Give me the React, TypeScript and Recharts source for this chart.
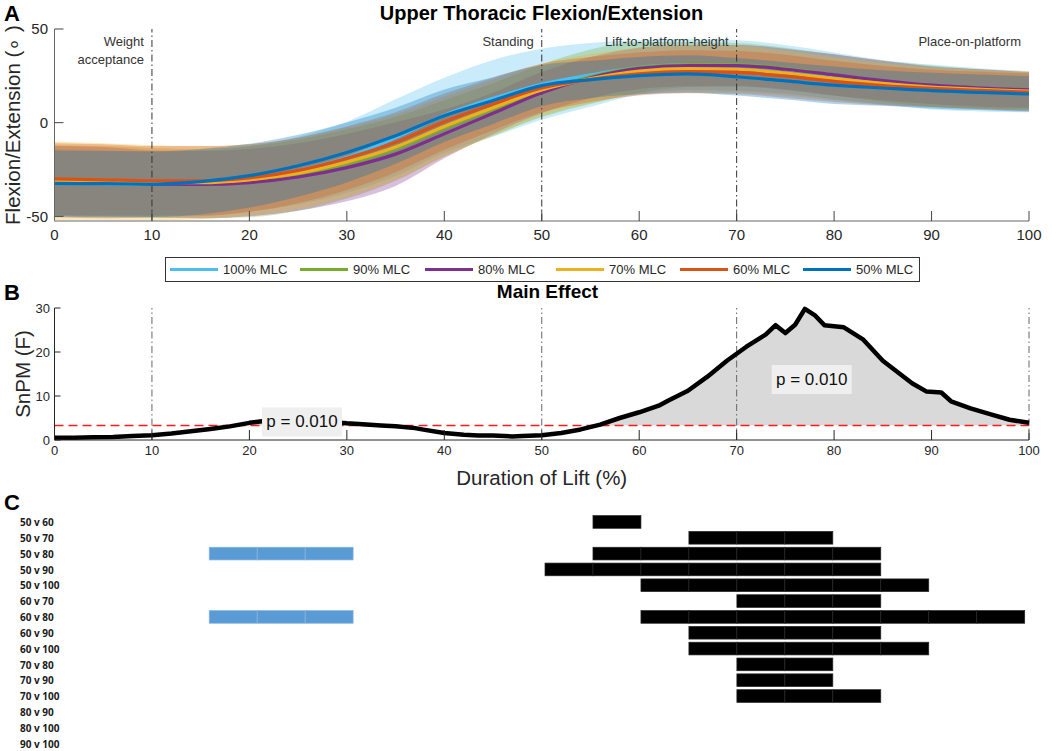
import React from 'react';
import {
  ComposedChart,
  Area,
  Line,
  Bar,
  XAxis,
  YAxis,
  ReferenceLine,
  ReferenceDot,
} from 'recharts';

// ---------- Panel A data ----------
const pctX = [0, 5, 10, 15, 20, 25, 30, 35, 40, 45, 50, 55, 60, 65, 70, 75, 80, 85, 90, 95, 100];
const xTicks = [0, 10, 20, 30, 40, 50, 60, 70, 80, 90, 100];
const yTicksA = [-50, 0, 50];

const mean100 = [-32, -32.5, -33, -32.5, -30, -25.5, -18.5, -8, 4, 13, 20.5, 25.5, 29.5, 31, 30.5, 28.5, 25, 21.5, 19, 17.5, 16.5];
const sd100 = [18, 18, 17.5, 17.5, 17.5, 18, 19, 20.5, 20, 20.5, 19, 17, 14.5, 13.5, 13.5, 13, 12.5, 12, 12, 11.5, 11];
const mean90 = [-31, -31.5, -32, -32.5, -31.5, -28, -22, -14, -3, 7, 17, 24.5, 29.5, 31, 31, 29, 25.5, 22, 19.5, 18, 17];
const sd90 = [19, 19, 18.5, 18.5, 19, 19, 18.5, 17, 15, 14, 14, 14.5, 13.5, 12, 11.5, 11, 11, 11, 11, 10.5, 10];
const mean80 = [-31.5, -32, -32.8, -33, -32, -29, -24, -16.8, -6, 5, 16, 24, 29, 30.5, 30.5, 28.5, 25.5, 22.5, 20, 18.5, 17.5];
const sd80 = [19, 19, 18, 18, 18, 18, 18, 17, 13, 11, 11, 11, 11, 11, 11, 11, 11, 10.5, 10, 10, 9.5];
const mean70 = [-31, -31.5, -32, -32, -30.5, -27, -21, -13, -2, 8, 17.5, 23.5, 27.5, 28.8, 28.5, 26.5, 23.5, 21, 19, 17.8, 16.8];
const sd70 = [21, 20.5, 20, 19.5, 19, 19, 18.5, 17.5, 16, 15, 14, 13, 12.5, 12.5, 12.5, 12, 11.5, 11, 10.5, 10.5, 10.5];
const mean60 = [-30, -30.5, -31, -31, -29.5, -25.5, -19, -10.5, 0.5, 10, 18.5, 23, 26, 27.2, 26.8, 24.8, 22, 19.8, 18.3, 17.2, 16.3];
const sd60 = [19, 19, 18.5, 18.5, 18, 17.5, 17, 16, 15, 14, 13, 12, 11.5, 11.5, 11.5, 11.5, 11, 10.5, 10, 10, 10];
const mean50 = [-32.4, -32.6, -32.8, -31.5, -28.3, -23, -15.9, -7, 3.7, 11.8, 19.8, 23, 25.1, 26, 24.5, 22.3, 20, 18.5, 17.1, 16.2, 15.3];
const sd50 = [17.5, 17.5, 17.5, 17.5, 17, 16.5, 16, 15, 14, 12.5, 11, 10, 10, 10, 10, 10, 10, 9.5, 9.5, 9.5, 9.5];

const seriesA = [
  { id: 's100', name: '100% MLC', color: '#4DBEEE', mean: mean100, sd: sd100 },
  { id: 's90', name: '90% MLC', color: '#77AC30', mean: mean90, sd: sd90 },
  { id: 's80', name: '80% MLC', color: '#7E2F8E', mean: mean80, sd: sd80 },
  { id: 's70', name: '70% MLC', color: '#EDB120', mean: mean70, sd: sd70 },
  { id: 's60', name: '60% MLC', color: '#D95319', mean: mean60, sd: sd60 },
  { id: 's50', name: '50% MLC', color: '#0072BD', mean: mean50, sd: sd50 },
];

const phases = [
  { x: 10, lines: ['Weight', 'acceptance'], drawn: true },
  { x: 50, lines: ['Standing'], drawn: true },
  { x: 70, lines: ['Lift-to-platform-height'], drawn: true },
  { x: 100, lines: ['Place-on-platform'], drawn: false },
];

const dataA = pctX.map((x, i) => {
  const row: any = { x };
  seriesA.forEach((s) => {
    row[s.id] = s.mean[i];
    row[s.id + 'band'] = [s.mean[i] - s.sd[i], s.mean[i] + s.sd[i]];
  });
  return row;
});

// ---------- Panel B data ----------
const snpmX = [0, 2, 4, 6, 8, 10, 12, 14, 16, 18, 20, 21.5, 23, 25, 27, 29, 30, 32, 33.5, 35, 37, 38, 40, 42, 43.5, 45, 47, 48, 50, 52, 54, 56, 58, 60, 62, 63, 65, 67, 69, 70, 71, 73, 74, 75, 76, 77, 78, 79, 81, 83, 85, 86, 88, 89.5, 91, 92, 94, 96, 98, 100];
const snpmF = [0.5, 0.5, 0.6, 0.7, 0.9, 1.1, 1.5, 2, 2.5, 3.1, 3.9, 4.3, 4.4, 4.4, 4.2, 4.0, 3.8, 3.5, 3.3, 3.1, 2.7, 2.3, 1.6, 1.2, 1.0, 1.0, 0.8, 0.9, 1.1, 1.6, 2.4, 3.5, 5.0, 6.3, 7.8, 9.0, 11.2, 14.4, 18.0, 19.6, 21.2, 24.0, 26.1, 24.3, 26.2, 29.8, 28.4, 26.1, 25.6, 22.8, 18.0, 16.3, 12.9, 11.0, 10.8, 8.8, 7.2, 5.9, 4.6, 3.9];
const threshold = 3.3;
const yTicksB = [0, 10, 20, 30];
const phaseLinesB = [10, 50, 70, 100];
const clusters = [
  { x: 25.4, y: 4.1, text: 'p = 0.010' },
  { x: 77.7, y: 13.75, text: 'p = 0.010' },
];

const dataB = snpmX.map((x, i) => ({
  x,
  f: snpmF[i],
  supra: [threshold, Math.max(threshold, snpmF[i])],
}));

// ---------- Panel C data ----------
const pairs = ['50 v 60', '50 v 70', '50 v 80', '50 v 90', '50 v 100', '60 v 70', '60 v 80', '60 v 90', '60 v 100', '70 v 80', '70 v 90', '70 v 100', '80 v 90', '80 v 100', '90 v 100'];
const blueSpans = [null, null, [15, 30], null, null, null, [15, 30], null, null, null, null, null, null, null, null];
const blackSpans = [[55, 60], [65, 80], [55, 85], [50, 85], [60, 90], [70, 85], [60, 100], [65, 85], [65, 90], [70, 80], [70, 80], [70, 85], null, null, null];
const CELL = 5;

const dataC = pairs.map((p, i) => ({ pair: p, blue: blueSpans[i], black: blackSpans[i] }));

// ---------- styles ----------
const FONT = '"Liberation Sans", Arial, Helvetica, sans-serif';
const AX = '#262626';
const DASHDOT = '7 3 1.5 3';
const RED = '#ff1a1a';

const phaseLabel = (lines: string[]) => (props: any) => {
  const vb = props.viewBox || {};
  const x = (vb.x || 0) - 8;
  const y0 = (vb.y || 0) + 17;
  return (
    <text x={x} y={y0} textAnchor="end" fontSize={13} fontFamily={FONT} fill="#333">
      {lines.map((l, k) => (
        <tspan key={k} x={x} dy={k === 0 ? 0 : 17.5}>
          {l}
        </tspan>
      ))}
    </text>
  );
};

const vLabel = (text: string, dx: number) => (props: any) => {
  const vb = props.viewBox || {};
  const cx = (vb.x || 0) + dx;
  const cy = (vb.y || 0) + (vb.height || 0) / 2;
  return (
    <text
      x={cx}
      y={cy}
      transform={`rotate(-90 ${cx} ${cy})`}
      textAnchor="middle"
      dominantBaseline="central"
      fontSize={20.5}
      fontFamily={FONT}
      fill={AX}
    >
      {text}
    </text>
  );
};

const xLabelB = (props: any) => {
  const vb = props.viewBox || {};
  return (
    <text
      x={(vb.x || 0) + (vb.width || 0) / 2}
      y={(vb.y || 0) + 37}
      textAnchor="middle"
      dominantBaseline="central"
      fontSize={20.5}
      fontFamily={FONT}
      fill={AX}
    >
      Duration of Lift (%)
    </text>
  );
};

const clusterShape = (text: string) => (props: any) => {
  const { cx, cy } = props;
  if (cx == null || cy == null) return null;
  return (
    <g>
      <rect x={cx - 40} y={cy - 14.5} width={80} height={29} fill="#efefef" />
      <text x={cx} y={cy} textAnchor="middle" dominantBaseline="central" fontSize={17} fontFamily={FONT} fill="#111">
        {text}
      </text>
    </g>
  );
};

const thresholdShape = (props: any) => {
  const { x1, x2, y1, y2 } = props;
  return <line x1={x1} x2={x2} y1={y1} y2={y2} stroke={RED} strokeWidth={1.4} strokeDasharray="9 5" />;
};

const cellShape = (key: string, fill: string, edge: string) => (props: any) => {
  const v = props.payload ? props.payload[key] : null;
  if (!v || !props.width) return null;
  const n = Math.max(1, Math.round((v[1] - v[0]) / CELL));
  const w = props.width / n;
  return (
    <g>
      {Array.from({ length: n }, (_, k) => (
        <rect key={k} x={props.x + k * w} y={props.y} width={w} height={props.height} fill={fill} stroke={edge} strokeWidth={0.7} />
      ))}
    </g>
  );
};

const PairTick = (props: any) => {
  const { y, payload } = props;
  return (
    <text x={20} y={y} dy={4.6} fontSize={10} fontWeight={700} fontFamily='"Open Sans", sans-serif' fill="#1a1a1a">
      {payload.value}
    </text>
  );
};

const legendStarts = [170, 300, 425, 556, 680, 803];

export default function App() {
  return (
    <div style={{ position: 'absolute', left: 0, top: 0, width: 1052, height: 751, background: '#fff', fontFamily: FONT, overflow: 'hidden' }}>
      {/* Panel letters and titles */}
      <div style={{ position: 'absolute', left: 4, top: 1, fontSize: 22, fontWeight: 700, color: '#000' }}>A</div>
      <div style={{ position: 'absolute', left: 4, top: 280, fontSize: 22, fontWeight: 700, color: '#000' }}>B</div>
      <div style={{ position: 'absolute', left: 4, top: 490, fontSize: 22, fontWeight: 700, color: '#000' }}>C</div>
      <div style={{ position: 'absolute', left: 0, width: 1083, top: 2, textAlign: 'center', fontSize: 20, fontWeight: 700, color: '#000' }}>
        Upper Thoracic Flexion/Extension
      </div>
      <div style={{ position: 'absolute', left: 0, width: 1095, top: 281, textAlign: 'center', fontSize: 19, fontWeight: 700, color: '#000' }}>
        Main Effect
      </div>

      {/* Panel A */}
      <div style={{ position: 'absolute', left: 0, top: 0 }}>
        <ComposedChart width={1052} height={250} data={dataA} margin={{ top: 29, right: 23, bottom: 0, left: 0 }}>
          <XAxis
            dataKey="x"
            type="number"
            domain={[0, 100]}
            ticks={xTicks}
            height={29}
            tickSize={-10}
            tickMargin={18}
            tick={{ fontSize: 15, fill: AX, fontFamily: FONT }}
            axisLine={{ stroke: '#666' }}
            tickLine={{ stroke: '#444' }}
            allowDataOverflow
          />
          <XAxis
            xAxisId="top"
            orientation="top"
            type="number"
            domain={[0, 100]}
            ticks={xTicks}
            height={0}
            tickSize={-10}
            tickFormatter={() => ''}
            axisLine={{ stroke: '#666' }}
            tickLine={{ stroke: '#444' }}
          />
          <YAxis
            type="number"
            domain={[-52.5, 50]}
            ticks={yTicksA}
            width={54.5}
            tickSize={-9}
            tickMargin={15.5}
            tick={{ fontSize: 15, fill: AX, fontFamily: FONT }}
            axisLine={{ stroke: '#666' }}
            tickLine={{ stroke: '#444' }}
            allowDataOverflow
            label={vLabel('Flexion/Extension (\u2218 )', 12.5)}
          />
          <YAxis
            yAxisId="right"
            orientation="right"
            type="number"
            domain={[-52.5, 50]}
            ticks={yTicksA}
            width={0}
            tickSize={-9}
            tickFormatter={() => ''}
            axisLine={{ stroke: '#666' }}
            tickLine={{ stroke: '#444' }}
          />
          {seriesA.map((s) => (
            <Area
              key={s.id + 'band'}
              dataKey={s.id + 'band'}
              type="monotone"
              stroke="none"
              fill={s.color}
              fillOpacity={0.3}
              isAnimationActive={false}
              activeDot={false}
            />
          ))}
          {phases.map((p) => (
            <ReferenceLine
              key={p.x}
              x={p.x}
              stroke={p.drawn ? '#333' : 'none'}
              strokeDasharray={DASHDOT}
              label={phaseLabel(p.lines)}
            />
          ))}
          {seriesA.map((s) => (
            <Line
              key={s.id}
              dataKey={s.id}
              name={s.name}
              type="monotone"
              stroke={s.color}
              strokeWidth={3.2}
              dot={false}
              isAnimationActive={false}
            />
          ))}
        </ComposedChart>
      </div>

      {/* Legend */}
      <svg style={{ position: 'absolute', left: 0, top: 0 }} width={1052} height={300}>
        <rect x={165.5} y={257.5} width={754} height={24} fill="#fff" stroke="#333" strokeWidth={1} />
        {seriesA.map((s, i) => (
          <g key={s.id}>
            <line x1={legendStarts[i]} x2={legendStarts[i] + 48} y1={269.5} y2={269.5} stroke={s.color} strokeWidth={3} />
            <text x={legendStarts[i] + 53} y={269.5} dominantBaseline="central" fontSize={13} fontFamily={FONT} fill={AX}>
              {s.name}
            </text>
          </g>
        ))}
      </svg>

      {/* Panel B */}
      <div style={{ position: 'absolute', left: 0, top: 290 }}>
        <ComposedChart width={1052} height={200} data={dataB} margin={{ top: 18, right: 23, bottom: 0, left: 0 }}>
          <XAxis
            dataKey="x"
            type="number"
            domain={[0, 100]}
            ticks={xTicks}
            height={50}
            tickSize={-10}
            tickMargin={16}
            tick={{ fontSize: 13, fill: AX, fontFamily: FONT }}
            axisLine={{ stroke: AX }}
            tickLine={{ stroke: AX }}
            label={xLabelB}
          />
          <YAxis
            type="number"
            domain={[0, 30]}
            ticks={yTicksB}
            width={54.5}
            tickSize={-6}
            tickMargin={10.5}
            tick={{ fontSize: 13, fill: AX, fontFamily: FONT }}
            axisLine={{ stroke: AX }}
            tickLine={{ stroke: AX }}
            label={vLabel('SnPM (F)', 22)}
          />
          <Area dataKey="supra" type="linear" stroke="none" fill="#d9d9d9" fillOpacity={1} isAnimationActive={false} activeDot={false} />
          {phaseLinesB.map((x) => (
            <ReferenceLine key={x} x={x} stroke="#666" strokeDasharray={DASHDOT} />
          ))}
          <ReferenceLine y={threshold} stroke={RED} strokeWidth={1.4} strokeDasharray="9 5" shape={thresholdShape} />
          <Line dataKey="f" type="linear" stroke="#000" strokeWidth={4.5} dot={false} isAnimationActive={false} strokeLinejoin="round" />
          {clusters.map((c, i) => (
            <ReferenceDot key={i} x={c.x} y={c.y} r={0} shape={clusterShape(c.text)} />
          ))}
        </ComposedChart>
      </div>

      {/* Panel C */}
      <div style={{ position: 'absolute', left: 0, top: 505 }}>
        <ComposedChart
          layout="vertical"
          width={1052}
          height={246}
          data={dataC}
          margin={{ top: 8.6, right: 27.3, bottom: 0, left: 0 }}
          barSize={12.7}
          barGap={-12.7}
        >
          <XAxis type="number" domain={[0, 100]} hide />
          <YAxis type="category" dataKey="pair" width={65.3} tick={<PairTick />} axisLine={false} tickLine={false} interval={0} />
          <Bar dataKey="blue" fill="#5B9BD5" shape={cellShape('blue', '#5B9BD5', '#86b5e2')} isAnimationActive={false} />
          <Bar dataKey="black" fill="#000" shape={cellShape('black', '#000', '#262626')} isAnimationActive={false} />
        </ComposedChart>
      </div>
    </div>
  );
}
